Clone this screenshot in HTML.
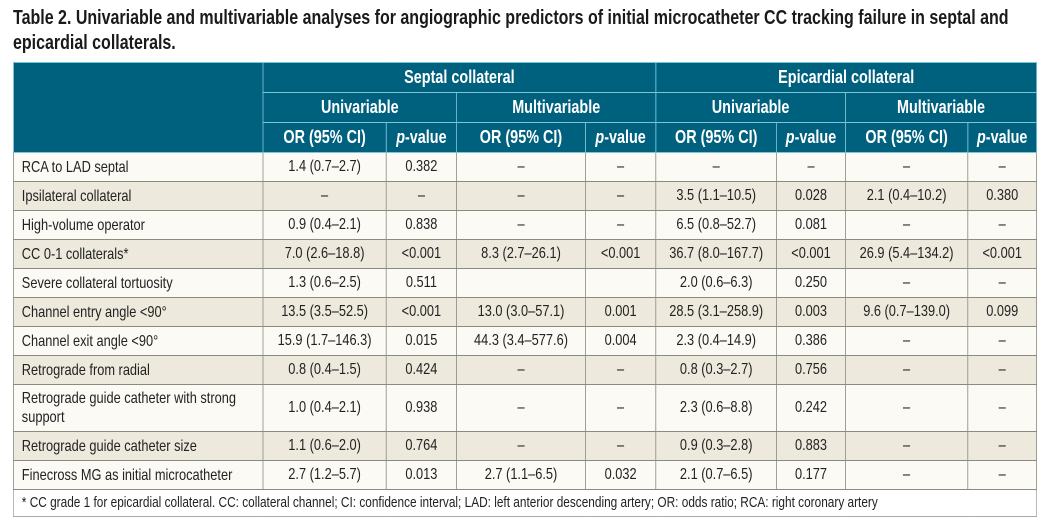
<!DOCTYPE html>
<html><head><meta charset="utf-8">
<style>
body{margin:0;background:#fff;width:1064px;height:527px;overflow:hidden;font-family:"Liberation Sans Narrow","Liberation Sans",sans-serif;}
.title{position:absolute;left:13px;top:6px;font-weight:bold;font-size:20px;line-height:25px;color:#1a1a1a;width:1300px;transform:scaleX(0.8);transform-origin:0 0;}
table{position:absolute;left:13px;top:62px;border-collapse:collapse;table-layout:fixed;width:1279px;transform:scaleX(0.8);transform-origin:0 0;}
td,th{padding:0;text-align:center;font-size:16px;color:#222;white-space:nowrap;}
th{background:#00617f;color:#fff;font-weight:bold;font-size:18px;border:1px solid #7cc4d8;height:29px;}
td{border:1px solid #8a8a80;height:28px;}
td.l{text-align:left;padding-left:10px;line-height:19px;white-space:normal;}
tr.o td{background:#fbfaf5;}
tr.e td{background:#ede9dc;}
tr.f td{background:#fff;text-align:left;padding-left:10px;font-size:14.8px;height:26px;border-color:#aaa;white-space:nowrap;}
</style></head><body>
<div class="title">Table 2. Univariable and multivariable analyses for angiographic predictors of initial microcatheter CC tracking failure in septal and<br>epicardial collaterals.</div>
<table>
<colgroup><col style="width:312px"><col style="width:154px"><col style="width:88px"><col style="width:161px"><col style="width:88px"><col style="width:151px"><col style="width:86px"><col style="width:153px"><col style="width:86px"></colgroup>
<tr><th rowspan="3" style="height:88px"></th><th colspan="4">Septal collateral</th><th colspan="4">Epicardial collateral</th></tr>
<tr><th colspan="2">Univariable</th><th colspan="2">Multivariable</th><th colspan="2">Univariable</th><th colspan="2">Multivariable</th></tr>
<tr><th>OR (95% CI)</th><th><i>p</i>-value</th><th>OR (95% CI)</th><th><i>p</i>-value</th><th>OR (95% CI)</th><th><i>p</i>-value</th><th>OR (95% CI)</th><th><i>p</i>-value</th></tr>
<tr class="o"><td class="l">RCA to LAD septal</td><td>1.4 (0.7–2.7)</td><td>0.382</td><td>–</td><td>–</td><td>–</td><td>–</td><td>–</td><td>–</td></tr>
<tr class="e"><td class="l">Ipsilateral collateral</td><td>–</td><td>–</td><td>–</td><td>–</td><td>3.5 (1.1–10.5)</td><td>0.028</td><td>2.1 (0.4–10.2)</td><td>0.380</td></tr>
<tr class="o"><td class="l">High-volume operator</td><td>0.9 (0.4–2.1)</td><td>0.838</td><td>–</td><td>–</td><td>6.5 (0.8–52.7)</td><td>0.081</td><td>–</td><td>–</td></tr>
<tr class="e"><td class="l">CC 0-1 collaterals*</td><td>7.0 (2.6–18.8)</td><td>&lt;0.001</td><td>8.3 (2.7–26.1)</td><td>&lt;0.001</td><td>36.7 (8.0–167.7)</td><td>&lt;0.001</td><td>26.9 (5.4–134.2)</td><td>&lt;0.001</td></tr>
<tr class="o"><td class="l">Severe collateral tortuosity</td><td>1.3 (0.6–2.5)</td><td>0.511</td><td></td><td></td><td>2.0 (0.6–6.3)</td><td>0.250</td><td>–</td><td>–</td></tr>
<tr class="e"><td class="l">Channel entry angle &lt;90°</td><td>13.5 (3.5–52.5)</td><td>&lt;0.001</td><td>13.0 (3.0–57.1)</td><td>0.001</td><td>28.5 (3.1–258.9)</td><td>0.003</td><td>9.6 (0.7–139.0)</td><td>0.099</td></tr>
<tr class="o"><td class="l">Channel exit angle &lt;90°</td><td>15.9 (1.7–146.3)</td><td>0.015</td><td>44.3 (3.4–577.6)</td><td>0.004</td><td>2.3 (0.4–14.9)</td><td>0.386</td><td>–</td><td>–</td></tr>
<tr class="e"><td class="l">Retrograde from radial</td><td>0.8 (0.4–1.5)</td><td>0.424</td><td>–</td><td>–</td><td>0.8 (0.3–2.7)</td><td>0.756</td><td>–</td><td>–</td></tr>
<tr class="o"><td class="l" style="height:46px">Retrograde guide catheter with strong<br>support</td><td>1.0 (0.4–2.1)</td><td>0.938</td><td>–</td><td>–</td><td>2.3 (0.6–8.8)</td><td>0.242</td><td>–</td><td>–</td></tr>
<tr class="e"><td class="l">Retrograde guide catheter size</td><td>1.1 (0.6–2.0)</td><td>0.764</td><td>–</td><td>–</td><td>0.9 (0.3–2.8)</td><td>0.883</td><td>–</td><td>–</td></tr>
<tr class="o"><td class="l" style="white-space:nowrap">Finecross MG as initial microcatheter</td><td>2.7 (1.2–5.7)</td><td>0.013</td><td>2.7 (1.1–6.5)</td><td>0.032</td><td>2.1 (0.7–6.5)</td><td>0.177</td><td>–</td><td>–</td></tr>
<tr class="f"><td colspan="9">* CC grade 1 for epicardial collateral. CC: collateral channel; CI: confidence interval; LAD: left anterior descending artery; OR: odds ratio; RCA: right coronary artery</td></tr>
</table>
</body></html>
